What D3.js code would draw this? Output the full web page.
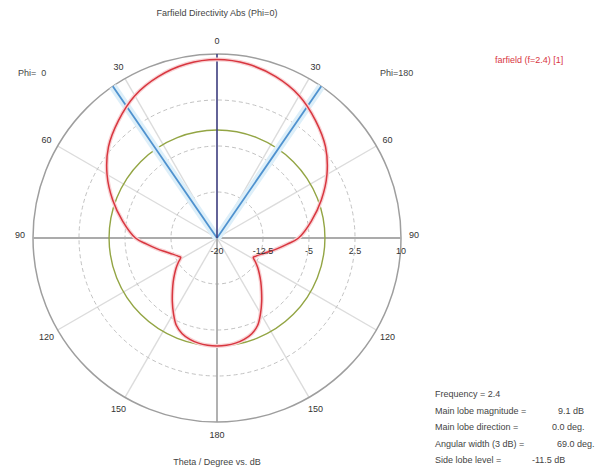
<!DOCTYPE html>
<html><head><meta charset="utf-8">
<script src="https://cdn.jsdelivr.net/npm/d3@7"></script>
<style>
html,body{margin:0;padding:0;background:#fff;}
svg text{font-family:"Liberation Sans",Arial,sans-serif;}
</style></head>
<body>
<svg id="chart" width="596" height="470"></svg>
<script>
// ---- data ----
const thetaDeg = [0,10,20,30,40,50,60,70,80,90,95,100,105,110,115,118,122,126,130,135,140,145,150,155,160,165,170,175,180];
const directivityDb = [9.1,8.8,8.0,6.8,5.0,3.1,0.7,-1.9,-4.4,-6.7,-8.5,-10.0,-11.3,-12.3,-13.0,-13.3,-12.6,-11.8,-11.0,-9.9,-8.7,-7.3,-5.8,-4.3,-3.4,-2.9,-2.6,-2.45,-2.4];
const radialTicks = [-20,-12.5,-5,2.5,10];
const angleTicks = [0,30,60,90,120,150,180];
const mainLobeDb = 9.1;
const mainLobeDir = 0;
const beamWidth = 69.0;
const sideLobeLevel = -11.5;
const infoLabels = ["Frequency = 2.4","Main lobe magnitude =","Main lobe direction =","Angular width (3 dB) =","Side lobe level ="];
const infoValues = ["", "9.1 dB", "0.0 deg.", "69.0 deg.", "-11.5 dB"];

// ---- layout ----
const svg = d3.select("#chart");
const cx = 217, cy = 238, R = 184;
const r = d3.scaleLinear().domain([-20, 10]).range([0, R]);
const rad = d => d * Math.PI / 180;
const g = svg.append("g").attr("transform", `translate(${cx},${cy})`);

// spokes
const spokeAngles = [30,60,120,150];
spokeAngles.forEach(a => {
  [a, -a].forEach(s => {
    g.append("line").attr("x1",0).attr("y1",0)
      .attr("x2", R*Math.sin(rad(s))).attr("y2", -R*Math.cos(rad(s)))
      .attr("stroke","#dcdcdc").attr("stroke-width",1.4);
  });
});
// dashed grid circles
radialTicks.slice(1, -1).forEach(t => {
  g.append("circle").attr("r", r(t)).attr("fill","none")
    .attr("stroke","#c2c2c2").attr("stroke-width",1).attr("stroke-dasharray","4,3");
});
// outer circle
g.append("circle").attr("r", R).attr("fill","none").attr("stroke","#9e9e9e").attr("stroke-width",1.5);
// axes
g.append("line").attr("x1",-R).attr("x2",R).attr("y1",0).attr("y2",0).attr("stroke","#ababab").attr("stroke-width",2);
g.append("line").attr("x1",0).attr("x2",0).attr("y1",0).attr("y2",R).attr("stroke","#9e9e9e").attr("stroke-width",1.6);

// side lobe level circle
g.append("circle").attr("r", r(mainLobeDb + sideLobeLevel)).attr("fill","none")
  .attr("stroke","#93a544").attr("stroke-width",1.4);

// beamwidth lines
[beamWidth/2, -beamWidth/2].forEach(a => {
  const x2 = R*Math.sin(rad(a)), y2 = -R*Math.cos(rad(a));
  g.append("line").attr("x1",0).attr("y1",0).attr("x2",x2).attr("y2",y2)
    .attr("stroke","#ddeff9").attr("stroke-width",8);
});
[beamWidth/2, -beamWidth/2].forEach(a => {
  const x2 = R*Math.sin(rad(a)), y2 = -R*Math.cos(rad(a));
  g.append("line").attr("x1",0).attr("y1",0).attr("x2",x2).attr("y2",y2)
    .attr("stroke","#4f92cf").attr("stroke-width",1.8);
});
// main lobe direction
g.append("line").attr("x1",0).attr("y1",0)
  .attr("x2", R*Math.sin(rad(mainLobeDir))).attr("y2", -R*Math.cos(rad(mainLobeDir)))
  .attr("stroke","#3d3d7e").attr("stroke-width",1.6);

// pattern curve (right side theta, left side mirrored)
const right = thetaDeg.map((t,i) => [rad(t), r(directivityDb[i])]);
const left = thetaDeg.slice().reverse().map((t,i) => [rad(360 - t), r(directivityDb[directivityDb.length-1-i])]);
const pts = right.concat(left.slice(1)).slice(0,-1);
const line = d3.lineRadial().curve(d3.curveCatmullRomClosed.alpha(0.5));
g.append("path").attr("d", line(pts)).attr("fill","none")
  .attr("stroke","#f8d3d5").attr("stroke-width",4);
g.append("path").attr("d", line(pts)).attr("fill","none")
  .attr("stroke","#d8363f").attr("stroke-width",1.5);

// radial tick labels
g.selectAll(".rt").data(radialTicks).enter().append("text")
  .attr("x", d => r(d)).attr("y", 16).attr("text-anchor","middle")
  .attr("font-size",9).attr("fill","#333").text(d => d);

// angle labels
const labR = 197;
angleTicks.forEach(a => {
  const sides = (a === 0 || a === 180) ? [a] : [a, -a];
  sides.forEach(s => {
    const yOff = (a === 90) ? 0 : 3;
    g.append("text").attr("x", labR*Math.sin(rad(s))).attr("y", -labR*Math.cos(rad(s)) + yOff)
      .attr("text-anchor","middle").attr("font-size",9).attr("fill","#333").text(a);
  });
});

// titles & labels
svg.append("text").attr("x",217).attr("y",16).attr("text-anchor","middle").attr("font-size",9).attr("fill","#444")
  .text("Farfield Directivity Abs (Phi=0)");
svg.append("text").attr("x",217).attr("y",465).attr("text-anchor","middle").attr("font-size",9).attr("fill","#444")
  .text("Theta / Degree vs. dB");
svg.append("text").attr("x",18).attr("y",76).attr("font-size",9).attr("fill","#444").attr("xml:space","preserve").text("Phi=  0");
svg.append("text").attr("x",380).attr("y",76).attr("font-size",9).attr("fill","#444").text("Phi=180");
svg.append("text").attr("x",495).attr("y",63).attr("font-size",9).attr("fill","#d8363f").text("farfield (f=2.4) [1]");

// info block
infoLabels.forEach((t,i) => {
  svg.append("text").attr("x",435).attr("y",397 + i*16.5).attr("font-size",9).attr("fill","#444").text(t);
});
const valX = [null, 558, 552, 557, 532];
infoValues.forEach((t,i) => {
  if (!t) return;
  svg.append("text").attr("x",valX[i]).attr("y",397 + i*16.5).attr("font-size",9).attr("fill","#444").text(t);
});
</script>
</body></html>
